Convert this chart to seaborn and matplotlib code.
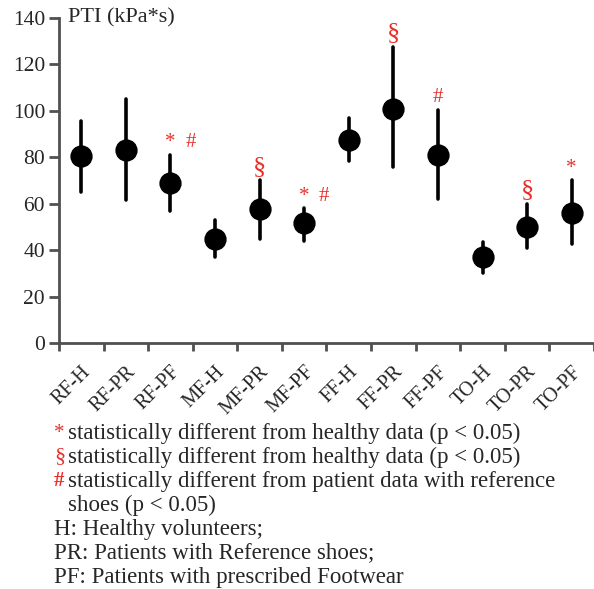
import matplotlib
matplotlib.use("Agg")
import matplotlib.pyplot as plt
import seaborn as sns
import pandas as pd
import numpy as np

# PTI mean and error bar range per region / group
categories = ["RF-H", "RF-PR", "RF-PF", "MF-H", "MF-PR", "MF-PF",
              "FF-H", "FF-PR", "FF-PF", "TO-H", "TO-PR", "TO-PF"]
means = [80.5, 83, 69, 45, 57.5, 51.5, 87.5, 101, 81, 37, 50, 56]
lows = [65, 61.5, 57, 37, 45, 44, 78.5, 76, 62, 30, 41, 42.5]
highs = [95.5, 105, 81, 53, 70, 58, 97, 127.5, 100.5, 43.5, 60, 70]
# significance marks per category
marks = ["", "", "*#", "", "§", "*#", "", "§", "#", "", "§", "*"]

RED = "#e8302a"
serif = ["Liberation Serif", "DejaVu Serif"]

sns.set_style("ticks")
plt.rcParams["font.family"] = serif

rows = []
for c, lo, m, hi in zip(categories, lows, means, highs):
    for v in (lo, m, hi):
        rows.append({"cat": c, "val": v})
df = pd.DataFrame(rows)

fig = plt.figure(figsize=(5.94, 5.89), dpi=100)
ax = fig.add_axes([0.0993, 0.4177, 0.9007, 0.5518])

sns.pointplot(data=df, x="cat", y="val", order=categories,
              estimator="median", errorbar=lambda v: (v.min(), v.max()),
              linestyle="none", color="black", markersize=14,
              err_kws={"linewidth": 2.6}, ax=ax)

ax.set_xlim(-0.5, len(categories) - 0.5)
ax.set_ylim(0, 140)
ax.set_yticks(range(0, 141, 20))
ax.set_xlabel("")
ax.set_ylabel("")
sns.despine(ax=ax)
for s in ("left", "bottom"):
    ax.spines[s].set_color("#505050")
    ax.spines[s].set_linewidth(2)

ax.tick_params(axis="y", labelsize=15.5, length=7, width=2, color="#505050", pad=3)
ax.set_xticks(np.arange(len(categories)))
ax.set_xticklabels(categories, rotation=45, ha="right", rotation_mode="anchor",
                   fontsize=14.5)
ax.tick_params(axis="x", which="major", length=0, pad=14)
ax.set_xticks(np.arange(len(categories) + 1) - 0.5, minor=True)
ax.tick_params(axis="x", which="minor", length=6, width=2, color="#505050")

ax.text(-0.3, 140, "PTI (kPa*s)", fontsize=16, va="center", ha="left")

for i, (mk, hi) in enumerate(zip(marks, highs)):
    for j, ch in enumerate(mk):
        ax.text(i + 0.45 * j, hi + 1.2, ch, color=RED,
                fontsize=19 if ch == "§" else 15, ha="center", va="bottom")

legend_lines = [
    ("*", "statistically different from healthy data (p < 0.05)", 433),
    ("§", "statistically different from healthy data (p < 0.05)", 457),
    ("#", "statistically different from patient data with reference", 481),
    ("", "shoes (p < 0.05)", 505),
]
for sym, txt, py in legend_lines:
    y = 1 - py / 589
    if sym:
        fig.text(54 / 594, y, sym, color=RED, fontsize=16 if sym == "§" else 15,
                 va="center", ha="left",
                 fontweight="bold" if sym == "#" else "normal")
    fig.text(68 / 594, y, txt, fontsize=16.5, va="center", ha="left")

for txt, py in [("H: Healthy volunteers;", 529),
                ("PR: Patients with Reference shoes;", 553),
                ("PF: Patients with prescribed Footwear", 577)]:
    fig.text(54 / 594, 1 - py / 589, txt, fontsize=16.5, va="center", ha="left")

fig.savefig("out.png", dpi=100)
